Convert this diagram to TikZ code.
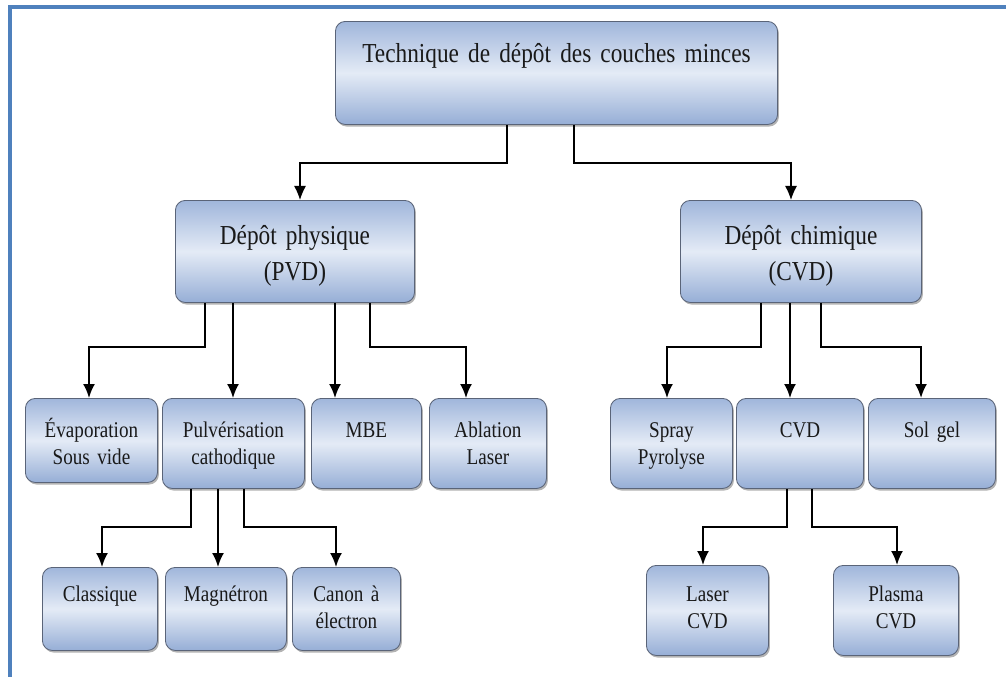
\documentclass[tikz,border=0pt]{standalone}
\usepackage{fontspec}
\setmainfont[FakeStretch=0.85, WordSpace=0.7]{Liberation Serif}
\usetikzlibrary{arrows.meta,shadows}
\definecolor{cadre}{RGB}{79,129,189}
\definecolor{bleuhaut}{RGB}{160,182,219}
\definecolor{bleumilieu}{RGB}{228,235,246}
\definecolor{bleubas}{RGB}{150,174,214}
\definecolor{bord}{RGB}{90,100,120}

\begin{document}
\begin{tikzpicture}[x=0.025cm, y=-0.025cm, >={Latex[length=3.5mm,width=3mm]},
		bloc/.style={rectangle, rounded corners=7pt, draw=bord, line width=0.6pt,
			top color=bleuhaut, bottom color=bleubas, middle color=bleumilieu,
			drop shadow={shadow xshift=1pt, shadow yshift=-1.5pt, opacity=0.6},
			anchor=north west, inner sep=0pt, align=center, text=black!90},
		niv0/.style={bloc, font=\fontsize{19.5}{26}\selectfont, text height=1.025cm, text depth=1.55cm},
		niv1/.style={bloc, font=\fontsize{19.5}{26}\selectfont, text height=1.1cm, text depth=1.45cm},
		niv2/.style={bloc, font=\fontsize{16}{19.3}\selectfont, text height=0.975cm, text depth=1.275cm},
		niv3/.style={bloc, font=\fontsize{16}{19.3}\selectfont, text height=0.85cm, text depth=1.225cm},
		fil/.style={->, line width=0.9pt},
		trait/.style={->, line width=1.4pt}]
	\useasboundingbox (0,0) rectangle (1006,677);
	\draw[cadre, line width=2.2pt] (10,677) -- (10,7) -- (1006,7);

	% boites
	\node[niv0, text width=11.05cm] (tech) at (335,21) {Technique de dépôt des couches minces};
	\node[niv1, text width=5.975cm] (pvd) at (175,200) {Dépôt physique\\(PVD)};
	\node[niv1, text width=6.025cm] (cvdc) at (680,200) {Dépôt chimique\\(CVD)};

	\node[niv2, text width=3.3cm, text depth=1.125cm] (evap) at (25,398) {Évaporation\\Sous vide};
	\node[niv2, text width=3.55cm] (pulv) at (162,398) {Pulvérisation\\cathodique};
	\node[niv2, text width=2.75cm] (mbe) at (311,398) {MBE};
	\node[niv2, text width=2.925cm] (abl) at (429,398) {Ablation\\Laser};
	\node[niv2, text width=3.05cm] (spray) at (610,398) {Spray\\Pyrolyse};
	\node[niv2, text width=3.175cm] (cvd) at (736,398) {CVD};
	\node[niv2, text width=3.175cm] (solgel) at (868,398) {Sol gel};

	\node[niv3, text width=2.875cm] (classique) at (42,567) {Classique};
	\node[niv3, text width=3.025cm] (magn) at (165,567) {Magnétron};
	\node[niv3, text width=2.7cm] (canon) at (292,567) {Canon à\\électron};
	\node[niv3, text width=3.05cm, text height=0.9cm, text depth=1.35cm] (lcvd) at (646,565) {Laser\\CVD};
	\node[niv3, text width=3.125cm, text height=0.9cm, text depth=1.35cm] (pcvd) at (833,565) {Plasma\\CVD};

	% fleches
	\draw[fil] (tech.south -| 507,0) -- (507,163) -| (pvd.north -| 300,0);
	\draw[fil] (tech.south -| 574,0) -- (574,163) -| (cvdc.north -| 791,0);

	\draw[trait] (pvd.south -| 205,0) -- (205,347) -| (evap.north -| 89,0);
	\draw[trait] (pvd.south -| 233,0) -- (pulv.north -| 233,0);
	\draw[trait] (pvd.south -| 335,0) -- (mbe.north -| 335,0);
	\draw[trait] (pvd.south -| 370,0) -- (370,347) -| (abl.north -| 466,0);
	\draw[trait] (cvdc.south -| 761,0) -- (761,347) -| (spray.north -| 667,0);
	\draw[trait] (cvdc.south -| 790,0) -- (cvd.north -| 790,0);
	\draw[trait] (cvdc.south -| 821,0) -- (821,347) -| (solgel.north -| 921,0);

	\draw[trait] (pulv.south -| 191,0) -- (191,527) -| (classique.north -| 102,0);
	\draw[trait] (pulv.south -| 218,0) -- (magn.north -| 218,0);
	\draw[trait] (pulv.south -| 244,0) -- (244,527) -| (canon.north -| 336,0);
	\draw[trait] (cvd.south -| 787,0) -- (787,527) -| (lcvd.north -| 703,0);
	\draw[trait] (cvd.south -| 812,0) -- (812,527) -| (pcvd.north -| 897,0);
\end{tikzpicture}
\end{document}
